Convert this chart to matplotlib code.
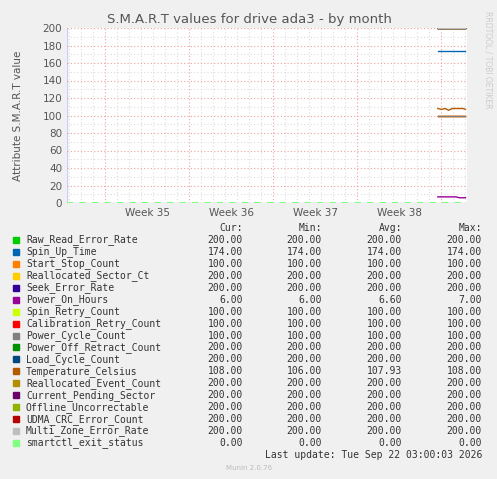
import matplotlib
matplotlib.use("Agg")
import matplotlib.pyplot as plt
import numpy as np

names = ["Raw_Read_Error_Rate","Spin_Up_Time","Start_Stop_Count","Reallocated_Sector_Ct",
 "Seek_Error_Rate","Power_On_Hours","Spin_Retry_Count","Calibration_Retry_Count",
 "Power_Cycle_Count","Power_Off_Retract_Count","Load_Cycle_Count","Temperature_Celsius",
 "Reallocated_Event_Count","Current_Pending_Sector","Offline_Uncorrectable",
 "UDMA_CRC_Error_Count","Multi_Zone_Error_Rate","smartctl_exit_status"]
colors = ["#00CC00","#0066B3","#FF8000","#FFCC00","#330099","#990099","#CCFF00","#FF0000",
 "#808080","#008F00","#00487D","#B35A00","#B38F00","#6B006B","#8FB300","#B30000","#BEBEBE","#80FF80"]
cur = [200,174,100,200,200,6,100,100,100,200,200,108,200,200,200,200,200,0]
mn  = [200,174,100,200,200,6,100,100,100,200,200,106,200,200,200,200,200,0]
avg = [200,174,100,200,200,6.60,100,100,100,200,200,107.93,200,200,200,200,200,0]
mx  = [200,174,100,200,200,7,100,100,100,200,200,108,200,200,200,200,200,0]

t = [30.9,31.2,31.5,31.8,32.1,32.4,32.7,33.0,33.2]
power_on = [7,7,7,7,7,7,6,6,6]
temp = [108,107,108,106,108,108,108,108,107]
exit_t = [0, 33.3]
exit_v = [0, 0]
week_pos = [3.17+3.5, 10.17+3.5, 17.17+3.5, 24.17+3.5]
week_labels = ["Week 35","Week 36","Week 37","Week 38"]
week_lines = [3.17,10.17,17.17,24.17,31.17]

fig = plt.figure(figsize=(4.97,4.79), dpi=100, facecolor="#F0F0F0")
ax = fig.add_axes([67/497, (479-203)/479, 400/497, 175/479], facecolor="white")
for i,n in enumerate(names[:-1]):
    if n == "Power_On_Hours": y = power_on
    elif n == "Temperature_Celsius": y = temp
    else: y = [cur[i]]*len(t)
    ax.plot(t, y, color=colors[i], lw=1)
ax.plot(exit_t, exit_v, color=colors[-1], lw=1.5, ls=(0,(3,3)))
ax.set_xlim(0,33.33); ax.set_ylim(0,200)
ax.set_yticks(range(0,201,20))
ax.set_yticks(range(0,201,10), minor=True)
ax.set_xticks(week_lines)
ax.set_xticklabels([])
ax.set_xticks(np.arange(0.17,33.3,1), minor=True)
for w,l in zip(week_pos, week_labels):
    ax.text(w, -6, l, ha="center", va="top", fontsize=7.5, color="#555555")
ax.grid(which="minor", color="#DDDDDD", ls=(0,(1,2)), lw=0.8)
ax.grid(which="major", color="#F0A0A0", ls=(0,(1,2)), lw=0.8)
ax.tick_params(which="both", length=0, labelsize=7.5, labelcolor="#555555")
for s in ax.spines.values(): s.set_visible(False)
ax.axhline(0, color="#CCCCFF", lw=1, zorder=0)
ax.axvline(0, color="#CCCCFF", lw=1, zorder=0)
ax.set_ylabel("Attribute S.M.A.R.T value", fontsize=7.5, color="#555555", labelpad=14)
fig.text(249/497, 1-19/479, "S.M.A.R.T values for drive ada3 - by month", ha="center", va="center", fontsize=9.5, color="#555555")
fig.text(488/497, 1-60/479, "RRDTOOL / TOBI OETIKER", rotation=270, ha="center", va="center", fontsize=5.5, color="#CCCCCC")

mono = "DejaVu Sans Mono"; fs = 7; tc = "#333333"
hy = 1-228/479
for x,h in zip([243,322,402,482],["Cur:","Min:","Avg:","Max:"]):
    fig.text(x/497, hy, h, ha="right", va="center", family=mono, fontsize=fs, color=tc)
for i,n in enumerate(names):
    y = 1-(240+i*11.94)/479
    fig.patches.append(plt.Rectangle((13/497, y-3/479), 6/497, 6/479, transform=fig.transFigure, color=colors[i], figure=fig))
    fig.text(26/497, y, n, ha="left", va="center", family=mono, fontsize=fs, color=tc)
    for x,v in zip([243,322,402,482],[cur[i],mn[i],avg[i],mx[i]]):
        fig.text(x/497, y, f"{v:.2f}", ha="right", va="center", family=mono, fontsize=fs, color=tc)
fig.text(482/497, 1-455/479, "Last update: Tue Sep 22 03:00:03 2026", ha="right", va="center", family=mono, fontsize=fs, color=tc)
fig.text(249/497, 1-468/479, "Munin 2.0.76", ha="center", va="center", fontsize=5, color="#BBBBBB")
fig.savefig("out.png", dpi=100, facecolor=fig.get_facecolor())
